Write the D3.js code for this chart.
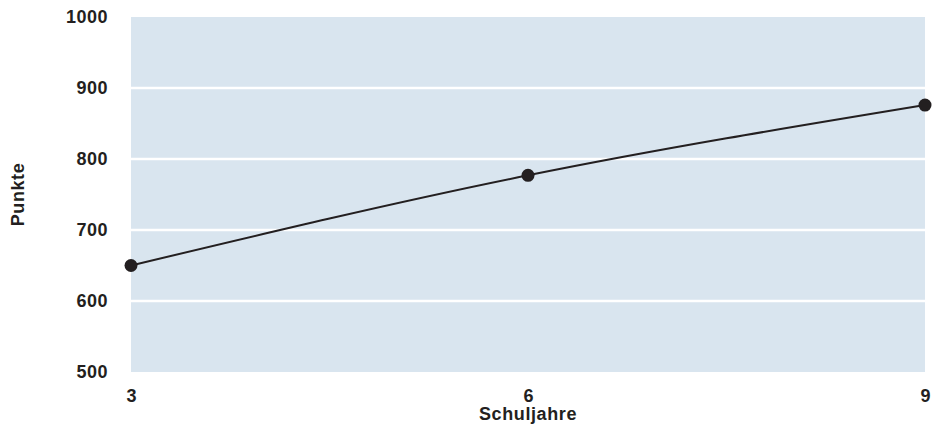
<!DOCTYPE html>
<html><head><meta charset="utf-8">
<script src="https://cdn.jsdelivr.net/npm/d3@7"></script>
<style>body{margin:0;background:#fff}svg{display:block}text{font-family:"Liberation Sans",Arial,Helvetica,sans-serif;font-weight:bold;fill:#231f20}</style>
</head><body><svg id="c" width="933" height="436"></svg>
<script>
const categories = [3, 6, 9];
const values = [650, 777, 876];
const yTicks = [500, 600, 700, 800, 900, 1000];
const xLabel = "Schuljahre";
const yLabel = "Punkte";

const svg = d3.select("#c");
const m = {left: 131, right: 8, top: 17, bottom: 64};
const W = 933, H = 436;
const x = d3.scaleLinear().domain([3, 9]).range([m.left, W - m.right]);
const y = d3.scaleLinear().domain([500, 1000]).range([H - m.bottom, m.top]);

svg.append("rect").attr("x", m.left).attr("y", m.top)
  .attr("width", W - m.right - m.left).attr("height", H - m.bottom - m.top)
  .attr("fill", "#d9e5ef");

svg.append("g").selectAll("line").data(yTicks.filter(d => d > 500 && d < 1000)).join("line")
  .attr("x1", m.left).attr("x2", W - m.right)
  .attr("y1", d => y(d)).attr("y2", d => y(d))
  .attr("stroke", "#fff").attr("stroke-width", 2.5);

const yAxis = d3.axisLeft(y).tickValues(yTicks).tickSize(0).tickPadding(23).tickFormat(d3.format("d"));
const gy = svg.append("g").attr("transform", `translate(${m.left},0)`).call(yAxis);
gy.select(".domain").remove();
gy.selectAll("text").attr("font-size", 18).attr("fill", "#231f20")
  .attr("font-family", "Liberation Sans, Arial, sans-serif").attr("font-weight", "bold")
  .attr("letter-spacing", 0.5);

const xAxis = d3.axisBottom(x).tickValues(categories).tickSize(0).tickPadding(17).tickFormat(d3.format("d"));
const gx = svg.append("g").attr("transform", `translate(0,${H - m.bottom})`).call(xAxis);
gx.select(".domain").remove();
gx.selectAll("text").attr("font-size", 18).attr("fill", "#231f20")
  .attr("font-family", "Liberation Sans, Arial, sans-serif").attr("font-weight", "bold");

const data = categories.map((c, i) => ({c, v: values[i]}));
svg.append("path").datum(data)
  .attr("d", d3.line().x(d => x(d.c)).y(d => y(d.v)).curve(d3.curveMonotoneX))
  .attr("fill", "none").attr("stroke", "#231f20").attr("stroke-width", 2);

svg.append("g").selectAll("circle").data(data).join("circle")
  .attr("cx", d => x(d.c)).attr("cy", d => y(d.v)).attr("r", 6.5).attr("fill", "#231f20");

svg.append("text").attr("x", (m.left + W - m.right) / 2).attr("y", 420)
  .attr("text-anchor", "middle").attr("font-size", 18).attr("letter-spacing", 0.6).text(xLabel);
svg.append("text").attr("transform", `translate(24,${(m.top + H - m.bottom) / 2}) rotate(-90)`)
  .attr("text-anchor", "middle").attr("font-size", 18).attr("letter-spacing", 0.6).text(yLabel);
</script></body></html>
